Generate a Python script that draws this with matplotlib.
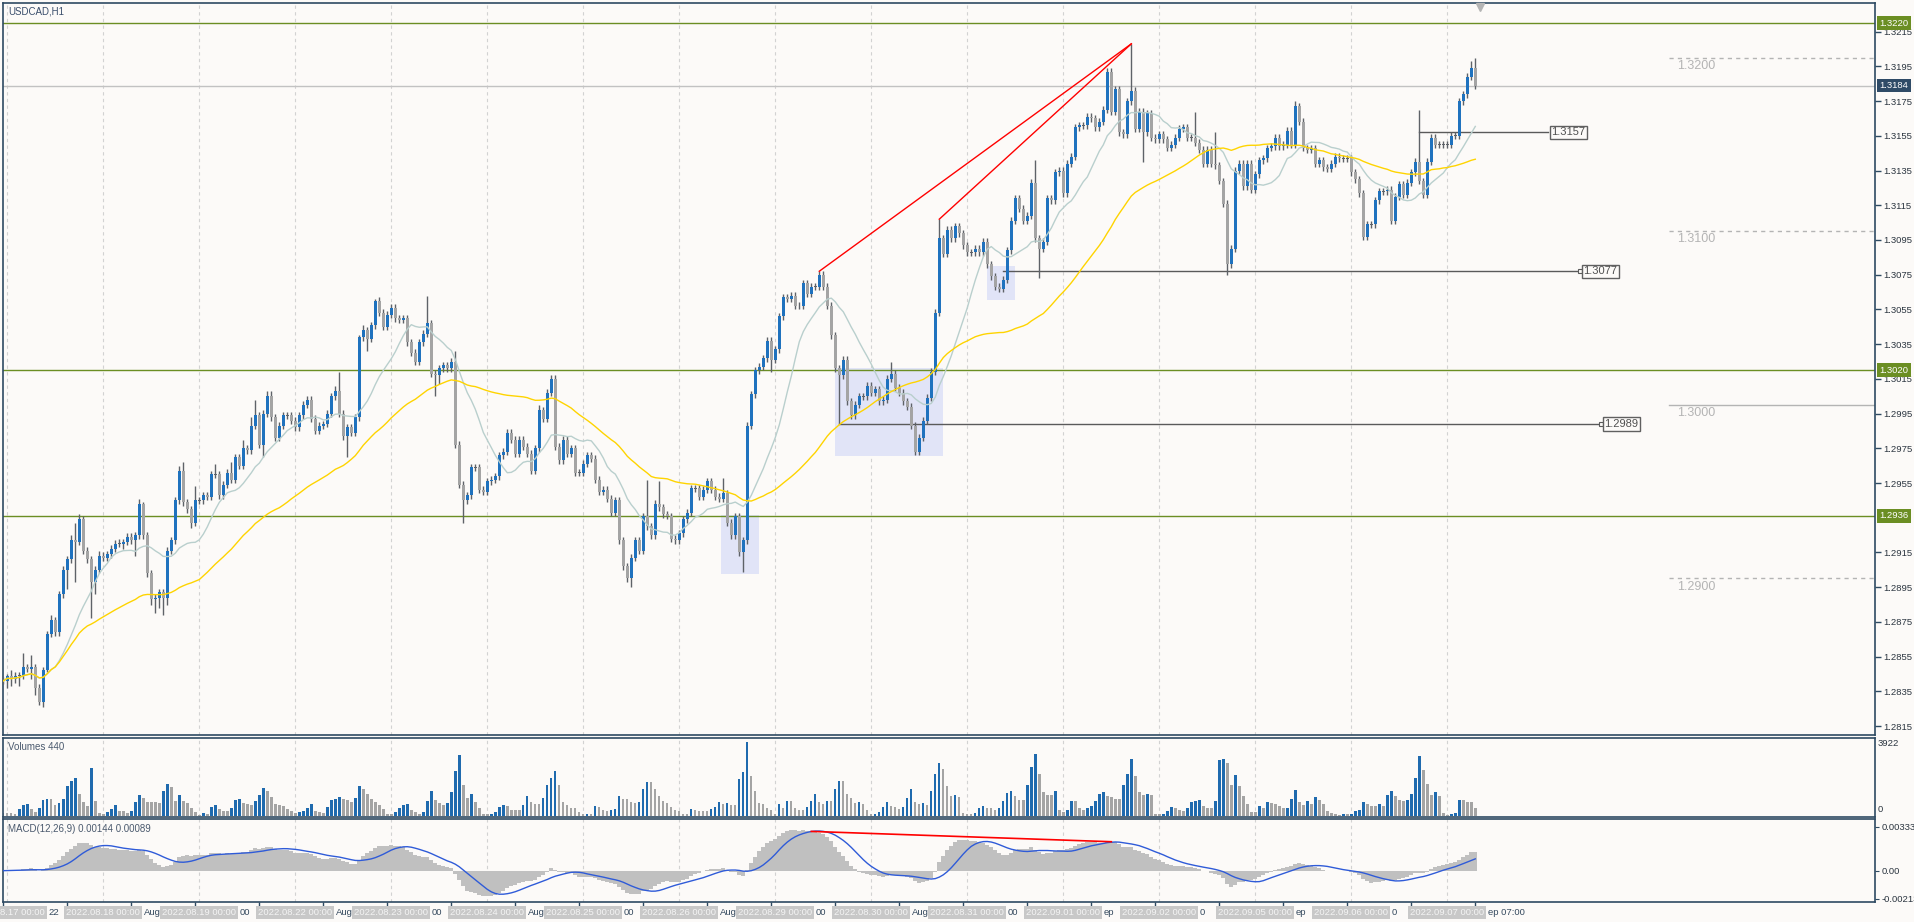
import numpy as np
import pandas as pd
import matplotlib
matplotlib.use("Agg")
import matplotlib.pyplot as plt
from matplotlib.patches import Rectangle
from matplotlib.ticker import FormatStrFormatter

plt.rcParams['font.family'] = ['Liberation Sans', 'DejaVu Sans']

# USDCAD H1, first bar 2022.08.16 23:00, last bar 2022.09.07 07:00
# prices as pips above 1.2800 (one row = one trading day)
BASE, PIP = 1.2800, 0.0001

close_pips = [
    41, 44, 42, 44, 44, 49, 48, 49, 37, 29, 47, 68, 76, 69, 91, 105, 111, 122, 121, 134, 116, 111, 98, 105, 113,
    112, 114, 117, 120, 120, 121, 124, 122, 125, 143, 125, 103, 88, 89, 92, 89, 116, 122, 145, 162, 144, 140, 132, 145,
    145, 148, 147, 160, 160, 148, 154, 161, 157, 170, 165, 175, 174, 188, 194, 177, 195, 205, 193, 181, 188, 194, 194, 191,
    187, 194, 200, 203, 192, 185, 188, 189, 195, 205, 208, 195, 182, 187, 184, 193, 239, 243, 238, 246, 260, 253, 245, 252,
    256, 250, 249, 250, 236, 230, 225, 236, 241, 247, 218, 217, 221, 223, 221, 225, 177, 154, 145, 148, 164, 164, 151, 150,
    156, 157, 159, 171, 173, 184, 180, 172, 180, 176, 172, 162, 175, 197, 192, 207, 215, 176, 168, 180, 172, 175, 161, 161,
    166, 171, 169, 157, 150, 151, 146, 138, 145, 122, 107, 100, 112, 122, 116, 136, 130, 125, 143, 141, 137, 136, 123, 122,
    126, 134, 138, 152, 152, 147, 151, 156, 151, 147, 146, 149, 132, 125, 136, 115, 122, 188, 206, 220, 222, 227, 237, 226,
    232, 251, 262, 261, 263, 257, 257, 270, 264, 268, 268, 275, 268, 257, 240, 221, 217, 226, 202, 194, 200, 205, 205, 211,
    207, 209, 202, 203, 215, 218, 210, 207, 202, 199, 188, 173, 181, 191, 204, 219, 253, 296, 287, 301, 296, 303, 299, 292,
    288, 288, 290, 288, 294, 281, 274, 268, 267, 272, 289, 306, 319, 313, 306, 309, 328, 296, 290, 294, 319, 318, 334, 335,
    322, 339, 343, 360, 361, 361, 366, 365, 360, 363, 370, 392, 369, 382, 357, 356, 375, 381, 359, 369, 357, 368, 354, 353,
    356, 353, 348, 350, 354, 359, 360, 354, 354, 351, 347, 339, 347, 339, 338, 329, 316, 281, 290, 335, 339, 326, 339, 324,
    333, 341, 342, 348, 349, 354, 349, 350, 358, 350, 372, 363, 348, 347, 348, 339, 341, 337, 336, 339, 343, 342, 342, 342,
    334, 330, 322, 297, 304, 304, 318, 323, 323, 324, 306, 320, 327, 321, 328, 334, 340, 329, 321, 340, 354, 350, 350, 350,
    350, 355, 355, 375, 379, 389, 394, 384,
]

wick_up = [
    2, 1, 3, 2, 2, 8, 2, 7, 2, 2, 2, 2, 3, 2, 2, 2, 2, 3, 10, 3, 2, 2, 2, 2, 3,
    2, 2, 2, 2, 3, 2, 2, 2, 2, 3, 1, 2, 2, 2, 2, 2, 2, 2, 2, 3, 5, 2, 2, 8,
    2, 2, 2, 2, 6, 2, 2, 2, 6, 2, 2, 5, 2, 5, 9, 2, 2, 3, 3, 2, 2, 2, 2, 2,
    2, 2, 2, 2, 2, 2, 2, 2, 2, 2, 3, 11, 2, 2, 2, 2, 1, 3, 2, 2, 1, 2, 2, 2,
    2, 2, 2, 2, 2, 2, 2, 2, 2, 16, 2, 2, 2, 2, 2, 2, 6, 2, 2, 2, 2, 2, 2, 2,
    2, 2, 2, 2, 2, 2, 2, 2, 2, 2, 2, 2, 2, 3, 2, 2, 2, 2, 2, 2, 2, 2, 2, 2,
    2, 2, 2, 2, 2, 2, 2, 2, 2, 2, 2, 2, 2, 2, 2, 2, 21, 2, 2, 13, 2, 2, 2, 2,
    2, 2, 2, 2, 2, 2, 2, 2, 2, 2, 2, 9, 2, 2, 2, 2, 2, 2, 2, 2, 2, 2, 2, 2,
    2, 2, 2, 2, 2, 2, 2, 2, 2, 2, 2, 2, 2, 2, 2, 2, 2, 2, 2, 2, 2, 2, 2, 2,
    2, 2, 2, 2, 2, 7, 2, 2, 2, 2, 2, 2, 2, 2, 2, 2, 2, 11, 2, 2, 2, 2, 2, 2,
    2, 2, 2, 2, 2, 2, 2, 2, 2, 2, 2, 2, 2, 2, 2, 2, 2, 13, 2, 2, 2, 2, 2, 2,
    2, 2, 2, 2, 2, 2, 2, 2, 2, 2, 2, 2, 2, 2, 2, 2, 2, 27, 2, 2, 2, 2, 2, 2,
    2, 2, 2, 2, 2, 2, 2, 2, 2, 15, 2, 2, 2, 2, 18, 2, 2, 2, 2, 2, 2, 2, 2, 2,
    2, 2, 2, 2, 2, 2, 2, 2, 2, 2, 3, 2, 2, 2, 2, 2, 2, 2, 2, 2, 2, 2, 2, 2,
    2, 2, 2, 2, 2, 2, 2, 2, 2, 2, 2, 2, 2, 2, 2, 2, 2, 30, 2, 2, 2, 2, 2, 2,
    2, 2, 2, 2, 2, 2, 4, 6,
]

wick_dn = [
    2, 4, 4, 2, 6, 2, 2, 6, 4, 2, 3, 1, 2, 2, 2, 2, 11, 2, 23, 2, 2, 2, 21, 7, 2,
    2, 2, 2, 2, 2, 3, 2, 2, 9, 2, 2, 2, 3, 8, 6, 10, 4, 2, 2, 2, 2, 2, 3, 2,
    2, 2, 2, 2, 2, 2, 2, 2, 2, 2, 2, 2, 2, 2, 2, 2, 7, 2, 2, 2, 2, 2, 2, 2,
    2, 2, 2, 2, 2, 2, 2, 2, 2, 2, 2, 2, 2, 12, 2, 2, 2, 2, 7, 2, 2, 2, 2, 2,
    2, 2, 2, 2, 2, 2, 2, 2, 2, 2, 2, 12, 5, 2, 2, 2, 2, 2, 13, 2, 2, 2, 2, 2,
    2, 2, 2, 2, 2, 2, 2, 2, 2, 2, 2, 2, 2, 2, 2, 2, 2, 2, 2, 2, 2, 2, 2, 2,
    2, 2, 2, 2, 2, 2, 2, 2, 2, 2, 2, 2, 5, 2, 2, 2, 2, 2, 2, 2, 2, 2, 2, 2,
    2, 2, 2, 2, 2, 2, 2, 2, 2, 2, 2, 2, 2, 2, 2, 2, 11, 2, 2, 2, 2, 2, 2, 7,
    2, 2, 2, 2, 2, 2, 2, 2, 2, 2, 2, 2, 2, 2, 2, 2, 28, 2, 2, 2, 2, 2, 2, 2,
    2, 2, 2, 2, 2, 2, 2, 2, 2, 2, 2, 2, 2, 2, 2, 2, 2, 2, 2, 2, 2, 2, 2, 2,
    2, 2, 2, 2, 2, 2, 2, 2, 2, 2, 2, 2, 2, 2, 2, 2, 2, 2, 17, 2, 2, 2, 2, 2,
    2, 2, 2, 2, 2, 2, 2, 2, 2, 2, 2, 2, 2, 2, 2, 2, 2, 2, 2, 2, 17, 2, 2, 2,
    2, 2, 2, 2, 2, 2, 2, 2, 2, 2, 2, 2, 2, 2, 2, 2, 2, 6, 2, 2, 2, 2, 2, 2,
    2, 2, 2, 2, 2, 2, 2, 2, 2, 2, 2, 2, 2, 2, 2, 2, 2, 2, 2, 2, 2, 2, 2, 2,
    2, 2, 2, 2, 2, 2, 2, 2, 2, 2, 2, 2, 2, 2, 2, 2, 2, 2, 2, 2, 2, 2, 2, 2,
    2, 2, 2, 2, 2, 2, 2, 2,
]

volumes = [
    170, 170, 170, 100, 380, 590, 630, 380, 210, 420, 860, 900, 900, 590, 690, 900, 1590, 1880, 2010, 1170,
    750, 540, 2530, 790, 170, 100, 210, 380, 590, 270, 270, 170, 270, 750, 1110, 960, 750, 750, 750, 690,
    1320, 1700, 1530, 790, 1110, 790, 690, 420, 210, 60, 170, 120, 480, 590, 380, 270, 270, 420, 840, 900,
    690, 630, 590, 790, 1110, 1490, 1320, 1000, 630, 590, 540, 380, 270, 170, 210, 270, 420, 630, 270, 210,
    170, 480, 840, 900, 1000, 900, 840, 750, 960, 1590, 1420, 1170, 900, 750, 590, 380, 120, 120, 210, 420,
    590, 630, 330, 210, 120, 210, 790, 1320, 840, 690, 590, 690, 1280, 2370, 3210, 1630, 960,
    1140, 760, 420, 120, 80, 120, 190, 460, 580, 530, 300, 300, 300, 580, 1050, 760, 640, 640, 940, 1620,
    2000, 2410, 1620, 760, 600, 420, 420, 190, 80, 120, 120, 530, 480, 300, 240, 300, 370, 1050, 920, 920,
    760, 690, 760, 1440, 1820, 1820, 1440, 1050, 820, 690, 460, 300, 240, 120, 120, 370, 300, 240, 240, 240,
    370, 480, 760, 640, 690, 580, 580, 1960, 2340, 3922, 2120, 1320, 690, 640, 420, 300, 120, 640, 420, 820,
    820, 420, 300, 300, 460, 820, 1160, 760, 640, 820, 820, 1440, 1840, 1840, 1160, 980, 690, 760, 640, 300,
    80, 120, 190, 480, 760, 530, 480, 370, 460, 940, 1440, 760, 640, 690, 600, 1320, 2230, 2800,
    2500, 1580, 1050, 1110, 1000, 180, 80, 80, 180, 450, 530, 400, 400, 320, 400, 790, 1240, 1320, 1050, 840,
    840, 1660, 2580, 3300, 2240, 1270, 1130, 1130, 1320, 320, 210, 320, 790, 790, 400, 340, 400, 530, 790, 1190,
    1270, 1050, 1000, 920, 920, 1630, 2240, 3030, 2110, 1270, 1130, 1190, 1130, 130, 80, 130, 260, 470, 400, 340,
    260, 400, 740, 790, 840, 530, 400, 400, 790, 2950, 3030, 2820, 1660, 2160, 1580, 1050, 610, 210, 210, 530,
    400, 740, 710, 610, 530, 400, 450, 920, 1370, 740, 580, 790, 610, 1000, 840, 610, 260, 180, 80, 50,
    80, 80, 130, 260, 320, 740, 610, 530, 530, 610,
    530, 1110, 1320, 1050, 840, 790, 840, 1190, 2030, 3160, 2450, 1710, 1130, 1270, 1050, 180, 50, 130, 180, 840,
    840, 740, 740, 440,
]

days = ['2022.08.17', '2022.08.18', '2022.08.19', '2022.08.22', '2022.08.23', '2022.08.24', '2022.08.25',
        '2022.08.26', '2022.08.29', '2022.08.30', '2022.08.31', '2022.09.01', '2022.09.02', '2022.09.05',
        '2022.09.06', '2022.09.07']
# bits of the platform's own time labels that show between the day boxes
time_label_bits = ['22', 'Aug', '00', 'Aug', '00', 'Aug', '00', 'Aug', '00', 'Aug', '00',
                   'ep', '0', 'ep', '0', 'ep 07:00']

green_levels = [1.3220, 1.3020, 1.2936]
round_levels = [1.3200, 1.3100, 1.3000, 1.2900]
round_dashed = [True, True, False, True]
# price, first bar of the line
marked_levels = [(1.3157, 353), (1.3077, 249), (1.2989, 208)]
# bar from, bar to, pips low, pips high
zones = [(178.4, 187.9, 102.6, 136.4), (206.9, 233.9, 170.3, 221.3), (244.9, 251.9, 260.6, 279.8)]
macd_labels = [0.00333, 0.0, -0.00213]

n = len(close_pips)
assert len(wick_up) == n and len(wick_dn) == n and len(volumes) == n, (n, len(wick_up), len(wick_dn), len(volumes))

bars = np.arange(n) - 1          # bar 0 = 2022.08.17 00:00
c = BASE + np.array(close_pips) * PIP
o = np.r_[c[0], c[:-1]]
hi = np.maximum(o, c) + np.array(wick_up) * PIP
lo = np.minimum(o, c) - np.array(wick_dn) * PIP
vol = np.array(volumes, dtype=float)

BG = '#FCFAF8'
FRAME = '#2E4A62'
BULL = '#1F72BE'
BEAR = '#A4A4A4'
WICK = '#5E6268'
TXT = '#2B3540'

W, H = 1915, 922
fig = plt.figure(figsize=(W / 100, H / 100), dpi=100, facecolor=BG)


def place(x0, y0, x1, y1):
    return [x0 / W, 1 - y1 / H, (x1 - x0) / W, (y1 - y0) / H]


def px2bar(x):
    return (x - 7.3) / 4.0


ax = fig.add_axes(place(3, 3, 1875, 735))
axv = fig.add_axes(place(3, 738, 1875, 817))
axm = fig.add_axes(place(3, 819, 1875, 902))
xmin, xmax = px2bar(3), px2bar(1875)
for a in (ax, axv, axm):
    a.set_facecolor(BG)
    a.set_xlim(xmin, xmax)
    for s in a.spines.values():
        s.set_color(FRAME)
        s.set_linewidth(1.2)
    a.tick_params(axis='x', bottom=False, labelbottom=False)
    a.tick_params(axis='y', left=False, labelleft=False)
    for d in range(len(days)):
        a.axvline(24 * d, color='#D2D2D2', lw=0.8, ls=(0, (3, 3)), zorder=0)

# ---- price panel
ax.set_ylim(BASE + 9.83 * PIP, BASE + 431.53 * PIP)
ax.yaxis.tick_right()
boxed = green_levels + [c[-1]]
price_ticks = [t for t in np.round(np.arange(1.2815, 1.32151, 0.0020), 4)
               if min(abs(t - b) for b in boxed) > 3 * PIP]
ax.set_yticks(price_ticks)
ax.yaxis.set_major_formatter(FormatStrFormatter('%.4f'))
ax.tick_params(axis='y', right=True, labelright=True, direction='out', length=4, width=1,
               color=FRAME, labelsize=6.8, labelcolor=TXT, pad=2)

for b0, b1, p0, p1 in zones:
    ax.add_patch(Rectangle((b0, BASE + p0 * PIP), b1 - b0, (p1 - p0) * PIP,
                           facecolor='#E1E4F7', edgecolor='none', zorder=1))

ax.axhline(c[-1], color='#C2C2C2', lw=1, zorder=1.5)
for lvl in green_levels:
    ax.axhline(lvl, color='#6B8E23', lw=1, zorder=2)

for lvl, dashed in zip(round_levels, round_dashed):
    ax.plot([px2bar(1669), xmax], [lvl, lvl], color='#B4B4B4', lw=1,
            ls=(0, (3, 3)) if dashed else '-', zorder=2)
    ax.annotate(f'{lvl:.4f}', (px2bar(1677), lvl), xytext=(0, -1.5), textcoords='offset points',
                ha='left', va='top', fontsize=9, color='#B4B4B4')

box_left = {1.3157: 1550, 1.3077: 1582, 1.2989: 1603}
for lvl, start in marked_levels:
    left = box_left[lvl]
    ax.plot([start, px2bar(left - 2)], [lvl, lvl], color='#5A5A5A', lw=1, zorder=3)
    if lvl != 1.3157:
        ax.plot([px2bar(left - 2)], [lvl], marker='s', ms=3, mfc=BG, mec='#5A5A5A', mew=0.8, zorder=4)
    ax.text(px2bar(left + 1.5), lvl, f'{lvl:.4f}', ha='left', va='center', fontsize=8, color='#505050',
            zorder=5, bbox=dict(boxstyle='square,pad=0.15', fc=BG, ec='#606060', lw=1))

ax.vlines(bars, lo, hi, color=WICK, lw=1, zorder=3)
diff = np.abs(c - o)
body = np.maximum(diff, 0.45 * PIP)
bottom = np.minimum(o, c) - (body - diff) / 2
colors = np.where(c > o, BULL, np.where(c < o, BEAR, WICK))
ax.bar(bars, body, bottom=bottom, width=0.72, color=colors, lw=0, zorder=4)

close_s = pd.Series(c)
ax.plot(bars, close_s.rolling(14, min_periods=1).mean(), color='#B9CFCD', lw=1, zorder=5)
ax.plot(bars, close_s.rolling(50, min_periods=1).mean(), color='#FFD400', lw=1, zorder=5)

peak = 281
for start in (203, 233):
    ax.plot([start, peak], [hi[start + 1], hi[peak + 1]], color='#FF0000', lw=1, zorder=6)

ax.plot([px2bar(1480)], [BASE + 429.5 * PIP], marker='v', ms=6, color='#B4B4B4', clip_on=False, zorder=6)


def axis_box(a, lvl, text, face):
    a.annotate(text, xy=(1, lvl), xycoords=('axes fraction', 'data'), xytext=(3.2, 0),
               textcoords='offset points', ha='left', va='center', fontsize=6.8, color='white',
               annotation_clip=False, bbox=dict(boxstyle='square,pad=0.25', fc=face, ec='none'))


for lvl in green_levels:
    axis_box(ax, lvl, f'{lvl:.4f}', '#6B8E23')
axis_box(ax, c[-1], f'{c[-1]:.4f}', '#2F4B67')

# ---- volume panel
vcol = np.where(np.r_[False, vol[1:] > vol[:-1]], '#1F6AAE', BEAR)
axv.bar(bars, vol, width=0.6, color=vcol, lw=0, zorder=2)
axv.set_ylim(-53, 4134)
axv.annotate('3922', xy=(1, 3922), xycoords=('axes fraction', 'data'), xytext=(2.2, -1),
             textcoords='offset points', va='center', fontsize=6.8, color=TXT, annotation_clip=False)
axv.annotate('0', xy=(1, 0), xycoords=('axes fraction', 'data'), xytext=(2.2, 1.5),
             textcoords='offset points', va='bottom', fontsize=6.8, color=TXT, annotation_clip=False)

# ---- MACD panel
ema12 = close_s.ewm(span=12, adjust=False).mean()
ema26 = close_s.ewm(span=26, adjust=False).mean()
macd = (ema12 - ema26).values
signal = pd.Series(macd).rolling(9, min_periods=1).mean().values
axm.bar(bars, macd, width=1.0, color='#C0C0C0', lw=0, zorder=2)
axm.plot(bars, signal, color='#2F5BD8', lw=1, zorder=3)
axm.set_ylim(-0.00237, 0.00391)
axm.plot([201, 276], [macd[202], macd[277]], color='#FF0000', lw=1.2, zorder=4)
axm.yaxis.tick_right()
axm.set_yticks(macd_labels)
axm.set_yticklabels(['0.00333', '0.00', '-0.00213'])
axm.tick_params(axis='y', right=True, labelright=True, direction='out', length=3, color=FRAME,
                labelsize=6.8, labelcolor=TXT, pad=1.5)

tick_bars = np.arange(-1, n - 1, 16)
axm.set_xticks(tick_bars)
axm.tick_params(axis='x', bottom=True, direction='out', length=4, width=1, color=FRAME, labelbottom=False)

# day boxes on the time axis, with the platform label fragments in the gaps
xtr = axm.get_xaxis_transform()
LAB_Y = -0.13
for d, name in enumerate(days):
    if d == 0:
        axm.text(px2bar(45), LAB_Y, name[6:] + ' 00:00', transform=xtr, ha='right', va='center',
                 fontsize=6.8, color='#F4F4F4', clip_on=False, zorder=6,
                 bbox=dict(boxstyle='square,pad=0.2', fc='#C8C8C8', ec='none'))
    else:
        axm.text(24 * d, LAB_Y, f'{name} 00:00', transform=xtr, ha='center', va='center', fontsize=6.8,
                 color='#F4F4F4', clip_on=False, zorder=6,
                 bbox=dict(boxstyle='square,pad=0.2', fc='#C8C8C8', ec='none'))
    axm.text(24 * d + 10.2, LAB_Y, time_label_bits[d], transform=xtr, ha='left', va='center',
             fontsize=6.8, color='#34495E', clip_on=False, zorder=5)

# ---- panel captions
fig.text(8 / W, 1 - 11 / H, 'USDCAD,H1', fontsize=7, color='#3A4E6C', va='center')
fig.text(8 / W, 1 - 747 / H, 'Volumes 440', fontsize=7, color='#4B5A6E', va='center')
fig.text(8 / W, 1 - 829 / H, 'MACD(12,26,9) 0.00144 0.00089', fontsize=7, color='#4B5A6E', va='center')

fig.savefig('out.png', dpi=100, facecolor=BG)
